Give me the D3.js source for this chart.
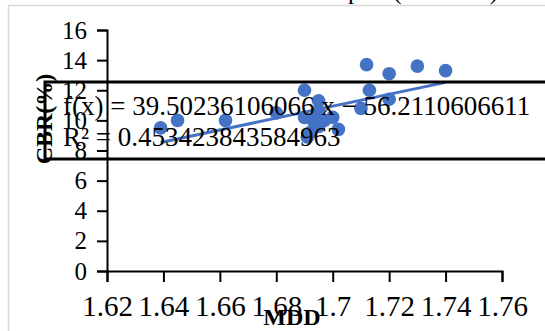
<!DOCTYPE html>
<html>
<head>
<meta charset="utf-8">
<script src="https://cdn.jsdelivr.net/npm/d3@7"></script>
<style>
  html, body { margin: 0; padding: 0; background: #fff; }
  svg { display: block; }
  text { font-family: "Liberation Serif", "Times New Roman", serif; fill: #000; }
</style>
</head>
<body>
<svg id="chart" width="545" height="331"></svg>
<script>
// MDD (g/cm³) against CBR (%) for the tested samples
const mdd = [1.639, 1.645, 1.662, 1.680, 1.690, 1.690, 1.692, 1.691, 1.695, 1.695, 1.695,
             1.697, 1.700, 1.702, 1.693, 1.710, 1.712, 1.713, 1.720, 1.720, 1.730, 1.740];
const cbr = [9.5, 10.0, 10.0, 10.5, 12.0, 10.2, 9.2, 8.9, 11.3, 10.6, 9.6,
             10.0, 10.2, 9.4, 10.0, 10.8, 13.7, 12.0, 13.1, 11.4, 13.6, 13.3];

// linear trend line reported by the spreadsheet
const slope = 39.50236106066;
const intercept = -56.2110606611;
const rSquared = 0.453423843584963;

const xTicks = [1.62, 1.64, 1.66, 1.68, 1.70, 1.72, 1.74, 1.76];
const yTicks = [0, 2, 4, 6, 8, 10, 12, 14, 16];

const chartTitle = "Scatter plot (All Soils)";
const xTitle = "MDD";
const yTitle = "CBR(%)";

const svg = d3.select("#chart");
const blue = "#4472C4";
const serif = '"Liberation Serif", "Times New Roman", serif';

// outer chart frame
svg.append("rect")
  .attr("x", 8.5).attr("y", 5.5)
  .attr("width", 600).attr("height", 400)
  .attr("fill", "none").attr("stroke", "#d9d9d9").attr("stroke-width", 1.5);

// title (sits above the frame)
svg.append("text")
  .attr("x", 498).attr("y", -1)
  .attr("text-anchor", "end")
  .style("font-size", "25px")
  .text(chartTitle);

const x = d3.scaleLinear().domain([1.62, 1.76]).range([107, 502]);
const y = d3.scaleLinear().domain([0, 16]).range([271, 30]);

const fmtX = d => d3.format(".2f")(d).replace(/0$/, "");

const yAxis = svg.append("g")
  .attr("transform", "translate(107,0)")
  .call(d3.axisLeft(y).tickValues(yTicks).tickSize(10).tickPadding(10).tickFormat(d3.format("d")));
const xAxis = svg.append("g")
  .attr("transform", "translate(0,271)")
  .call(d3.axisBottom(x).tickValues(xTicks).tickSize(11).tickPadding(13).tickFormat(fmtX));

[xAxis, yAxis].forEach(g => {
  g.attr("font-family", serif);
  g.selectAll("path, line").attr("stroke", "#000").attr("stroke-width", 2);
  g.selectAll("text").attr("fill", "#000").style("font-family", serif);
});
yAxis.selectAll("text").style("font-size", "25px");
xAxis.selectAll("text").style("font-size", "29px");

// axis titles
svg.append("text")
  .attr("x", 292).attr("y", 325)
  .attr("text-anchor", "middle")
  .style("font-size", "24px").style("font-weight", "bold")
  .text(xTitle);
svg.append("text")
  .attr("transform", "translate(52,119) rotate(-90)")
  .attr("text-anchor", "middle")
  .style("font-size", "24px").style("font-weight", "bold")
  .text(yTitle);

// data points
const pts = mdd.map((m, i) => ({ m, c: cbr[i] }));
svg.append("g").selectAll("circle")
  .data(pts).join("circle")
  .attr("cx", d => x(d.m)).attr("cy", d => y(d.c))
  .attr("r", 6.8).attr("fill", blue);

// trend line over the data range
const [xmin, xmax] = d3.extent(mdd);
svg.append("line")
  .attr("x1", x(xmin)).attr("y1", y(slope * xmin + intercept))
  .attr("x2", x(xmax)).attr("y2", y(slope * xmax + intercept))
  .attr("stroke", blue).attr("stroke-width", 3);

// equation label box
svg.append("rect")
  .attr("x", 45).attr("y", 82)
  .attr("width", 560).attr("height", 77)
  .attr("fill", "none").attr("stroke", "#000").attr("stroke-width", 3);

const eq = svg.append("text").style("font-size", "27px");
eq.append("tspan").attr("x", 63).attr("y", 115)
  .text(`f(x) = ${slope} x − ${Math.abs(intercept)}`);
eq.append("tspan").attr("x", 63).attr("y", 146)
  .text(`R² = ${rSquared}`);
</script>
</body>
</html>
